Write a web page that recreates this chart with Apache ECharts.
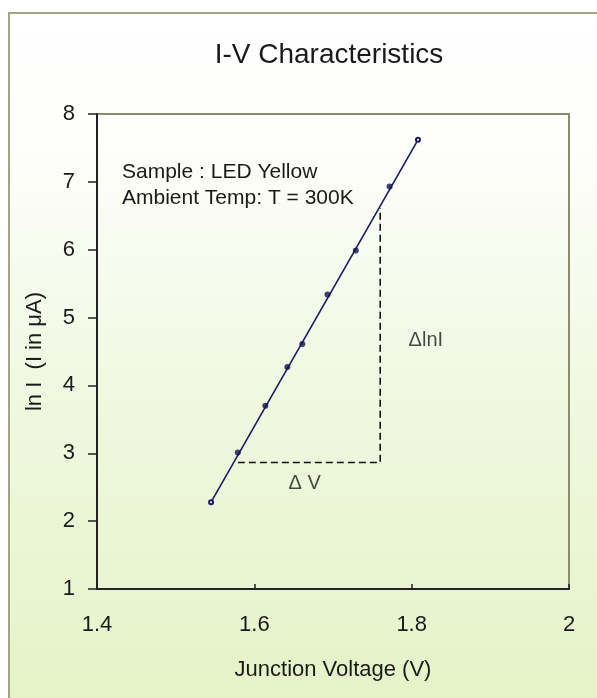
<!DOCTYPE html>
<html>
<head>
<meta charset="utf-8">
<script src="https://cdn.jsdelivr.net/npm/echarts@6/dist/echarts.min.js"></script>
<style>
html,body{margin:0;padding:0;background:#fff;}
#chart{width:597px;height:698px;}
</style>
</head>
<body>
<div id="chart"></div>
<script>
// ---- data ----
var chartTitle = 'I-V Characteristics';
var xAxisName = 'Junction Voltage (V)';
var yAxisName = 'ln I  (I in \u03BCA)';
var xTicks = [1.4, 1.6, 1.8, 2];
var yTicks = [1, 2, 3, 4, 5, 6, 7, 8];
// measured points
var pointsV   = [1.579, 1.614, 1.642, 1.661, 1.693, 1.729, 1.772];
var pointsLnI = [3.01, 3.70, 4.27, 4.61, 5.34, 5.99, 6.93];
// fitted straight line ends
var fitV   = [1.545, 1.808];
var fitLnI = [2.28, 7.62];
// slope triangle (dashed)
var triV   = [1.579, 1.760, 1.760];
var triLnI = [2.865, 2.865, 6.61];
// triangle labels
var deltaLabels = ['\u0394 V', '\u0394lnI'];
var deltaLabelV = [1.664, 1.818];
var deltaLabelLnI = [2.55, 4.66];
var noteLines = ['Sample : LED Yellow', 'Ambient Temp: T = 300K'];

var FONT = '"Liberation Sans", Arial, sans-serif';
var TXT = '#1a1a1a';

function zip(a, b) { return a.map(function (v, i) { return [v, b[i]]; }); }

var chart = echarts.init(document.getElementById('chart'), null, {renderer: 'canvas'});
var option = {
  animation: false,
  backgroundColor: '#ffffff',
  graphic: [
    {
      type: 'rect', z: -10, silent: true,
      shape: {x: 9, y: 13, width: 600, height: 700},
      style: {
        fill: new echarts.graphic.LinearGradient(0, 0, 0, 1, [
          {offset: 0, color: '#ffffff'},
          {offset: 0.18, color: '#fefefc'},
          {offset: 0.55, color: '#f0f8e0'},
          {offset: 1, color: '#e4f3c6'}
        ]),
        stroke: '#a3a386', lineWidth: 2
      }
    },
    {
      type: 'text', left: 122, top: 159, z: 10,
      style: {text: noteLines.join('\n'), font: '21px ' + FONT, fill: TXT, lineHeight: 26}
    }
  ],
  title: {
    text: chartTitle, left: 324, top: 36, textAlign: 'center',
    textStyle: {fontFamily: FONT, fontSize: 28, fontWeight: 'normal', color: TXT}
  },
  grid: {
    left: 97, top: 114, right: 28, bottom: 109,
    show: true, borderColor: '#8b8b70', borderWidth: 2, backgroundColor: 'transparent'
  },
  xAxis: {
    type: 'value', min: 1.4, max: 2, interval: 0.2,
    name: xAxisName, nameLocation: 'middle', nameGap: 70,
    nameTextStyle: {fontFamily: FONT, fontSize: 22, color: TXT},
    axisLine: {show: true, lineStyle: {color: '#222', width: 2}},
    axisTick: {show: true, inside: true, length: 5, lineStyle: {color: '#222', width: 1.5}},
    axisLabel: {
      margin: 25, fontFamily: FONT, fontSize: 22, color: TXT,
      formatter: function (v) { return xTicks.indexOf(Math.round(v * 10) / 10) >= 0 ? String(Math.round(v * 10) / 10) : ''; }
    },
    splitLine: {show: false}
  },
  yAxis: {
    type: 'value', min: 1, max: 8, interval: 1,
    name: yAxisName, nameLocation: 'middle', nameGap: 51, nameRotate: 90,
    nameTextStyle: {fontFamily: FONT, fontSize: 22, color: TXT},
    axisLine: {show: true, lineStyle: {color: '#222', width: 2}},
    axisTick: {show: true, inside: false, length: 9, lineStyle: {color: '#222', width: 1.5}},
    axisLabel: {margin: 22, fontFamily: FONT, fontSize: 22, color: TXT,
      formatter: function (v) { return yTicks.indexOf(v) >= 0 ? String(v) : ''; }},
    splitLine: {show: false}
  },
  series: [
    {
      type: 'line', data: zip(triV, triLnI), symbol: 'none', silent: true,
      lineStyle: {color: '#111', width: 1.6, type: [7, 4]}, z: 3
    },
    {
      type: 'line', data: zip(fitV, fitLnI), symbol: 'emptyCircle', symbolSize: 4, silent: true,
      itemStyle: {color: '#1a1a66', borderWidth: 1},
      lineStyle: {color: '#1a1a66', width: 1.6}, z: 4
    },
    {
      type: 'scatter', data: zip(pointsV, pointsLnI), symbol: 'circle', symbolSize: 6,
      itemStyle: {color: '#101050'}, z: 5
    },
    {
      type: 'scatter', symbolSize: 0, silent: true, z: 6,
      data: deltaLabels.map(function (t, i) { return {value: [deltaLabelV[i], deltaLabelLnI[i]], name: t}; }),
      label: {show: true, position: 'inside', formatter: '{b}', fontFamily: FONT, fontSize: 20, color: TXT}
    }
  ]
};
chart.setOption(option);
</script>
</body>
</html>
